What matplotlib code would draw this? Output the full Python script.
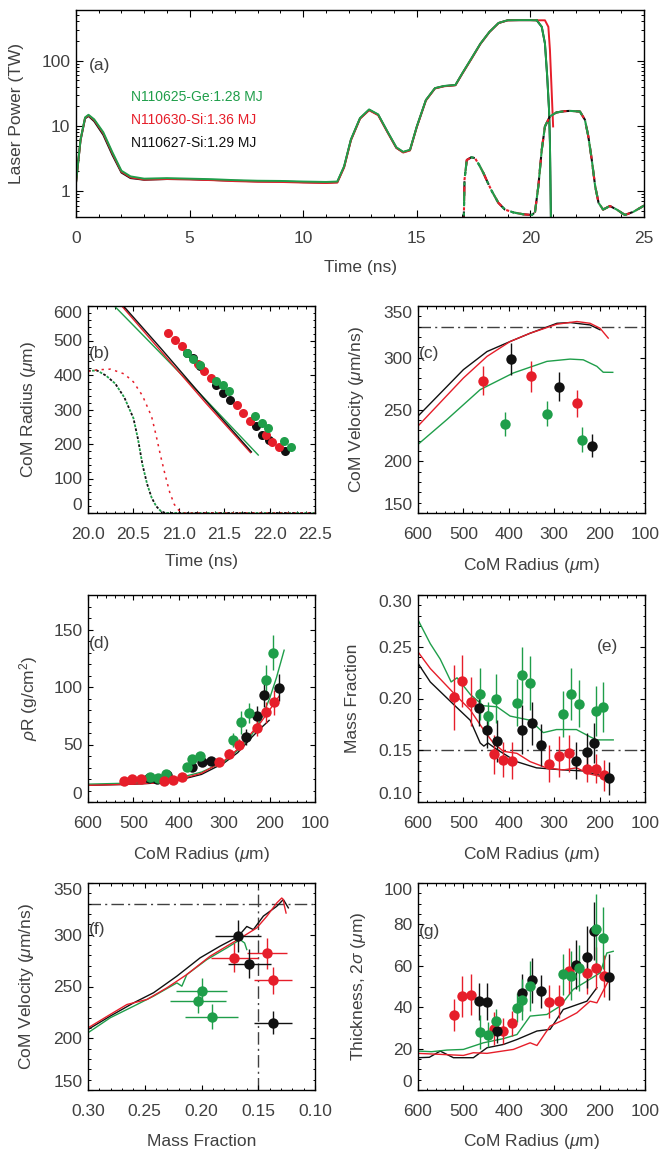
import numpy as np
import matplotlib.pyplot as plt
import matplotlib
from matplotlib.ticker import MultipleLocator, LogLocator, NullFormatter

# IDL-like look: Helvetica-ish text, gray labels, inward ticks on all sides
plt.rcParams['font.family'] = ['Liberation Sans', 'DejaVu Sans']
plt.rcParams['mathtext.fontset'] = 'custom'
plt.rcParams['mathtext.rm'] = 'Liberation Sans'
plt.rcParams['mathtext.it'] = 'Liberation Sans:italic'
plt.rcParams['xtick.labelcolor'] = '#404040'
plt.rcParams['ytick.labelcolor'] = '#404040'

GREEN = '#1f9e4a'
RED = '#e61e2a'
BLACK = '#111111'
TXT = '#404040'
REFC = '#404040'
FS = 12.5

# ---------------- (a) laser pulse ----------------
t_las = [0, 0.2, 0.4, 0.55, 0.8, 1.2, 1.6, 2.0, 2.4, 3.0, 4.0, 5.0, 6.0, 7.0, 8.0, 9.0,
         10.0, 11.0, 11.5, 11.8, 12.1, 12.5, 12.9, 13.3, 13.7, 14.1, 14.4, 14.7, 15.0,
         15.4, 15.8, 16.2, 16.7, 17.0, 17.4, 17.8, 18.2, 18.6, 19.0, 19.5, 20.0, 20.28]
p_green = [1.34, 6.2, 13.5, 14.8, 12.6, 8.0, 3.95, 2.05, 1.68, 1.55, 1.58, 1.55, 1.52, 1.47, 1.44, 1.43,
           1.40, 1.38, 1.40, 2.4, 6.2, 13.2, 17.9, 15.0, 8.3, 4.7, 4.0, 4.3, 9.8,
           25, 38, 41, 42.5, 64, 108, 183, 278, 380, 418, 420, 420, 417]
p_red = [1.34, 6.1, 13.3, 14.5, 12.3, 7.7, 3.8, 1.98, 1.62, 1.50, 1.53, 1.51, 1.47, 1.42, 1.39, 1.38,
         1.35, 1.33, 1.35, 2.3, 6.0, 12.9, 17.4, 14.6, 8.1, 4.6, 3.9, 4.2, 9.6,
         24.5, 37.5, 40.5, 42, 63, 106, 181, 276, 378, 416, 419, 419, 417]
p_black = [1.34, 6.0, 13.0, 14.2, 11.8, 7.3, 3.6, 1.92, 1.58, 1.49, 1.53, 1.52, 1.48, 1.44, 1.41, 1.40,
           1.37, 1.35, 1.37, 2.35, 6.1, 13.0, 17.6, 14.8, 8.2, 4.6, 3.95, 4.25, 9.7,
           24.8, 37.8, 40.8, 42.2, 63.5, 107, 182, 277, 379, 417, 419, 419, 417]
t_tail_green = [20.28, 20.5, 20.64, 20.74, 20.82, 20.86, 20.9, 20.92]
p_tail_green = [417, 331, 184, 57, 17.7, 5.5, 0.43, 0.1]
t_tail_red = [20.28, 20.64, 20.79, 20.86, 20.94, 21.0]
p_tail_red = [417, 417, 331, 146, 31.8, 9.8]

t_hump1 = [17.04, 17.1, 17.2, 17.4, 17.56, 17.75, 17.93, 18.1, 18.3, 18.59, 18.88, 19.25, 19.69, 20.06, 20.2]
p_hump1 = [0.1, 1.5, 3.0, 3.3, 3.2, 2.5, 1.9, 1.4, 1.0, 0.66, 0.52, 0.47, 0.44, 0.43, 0.47]
t_hump2 = [20.2, 20.35, 20.5, 20.64, 20.86, 21.15, 21.5, 21.74, 22.18, 22.4, 22.55, 22.7, 22.85,
           23.0, 23.2, 23.5, 23.8, 24.16, 24.53, 24.9, 25.0]
p_hump2 = [0.47, 1.19, 4.3, 9.8, 14, 16.1, 16.8, 17, 16.6, 12.4, 6.9, 3.05, 1.19,
           0.66, 0.52, 0.59, 0.52, 0.43, 0.48, 0.57, 0.6]

shot_labels = ['N110625-Ge:1.28 MJ', 'N110630-Si:1.36 MJ', 'N110627-Si:1.29 MJ']

# ---------------- experimental shells: radii shared by (b),(d),(e),(g) ----------------
r_red = [521, 502, 484, 432, 412, 392, 312, 290, 268, 227, 207, 190]
r_black = [465, 448, 425, 370, 348, 328, 251, 227, 212, 179]
r_green = [464, 446, 429, 383, 370, 353, 280, 262, 245, 209, 192]

t_red = [20.882, 20.963, 21.033, 21.213, 21.279, 21.353, 21.636, 21.710, 21.783, 21.956, 22.029, 22.103]
t_black = [21.09, 21.158, 21.232, 21.408, 21.489, 21.563, 21.849, 21.919, 21.996, 22.165]
t_green = [21.092, 21.158, 21.232, 21.408, 21.482, 21.555, 21.838, 21.912, 21.985, 22.158, 22.232]

# (b) simulated trajectories
bt_black = [20.30, 20.80, 21.30, 21.80]
br_black = [627, 478, 325, 177]
bt_red = [20.28, 20.80, 21.30, 21.79]
br_red = [628, 470, 318, 175]
bt_green = [20.19, 20.70, 21.20, 21.875]
br_green = [627, 490, 355, 168]
# (b) dotted: laser power (scaled)
dt_green = [20.0, 20.1, 20.2, 20.3, 20.4, 20.5, 20.55, 20.6, 20.65, 20.7, 20.75, 20.8, 20.85, 22.5]
dr_green = [412, 413, 398, 375, 335, 275, 215, 140, 85, 45, 20, 6, 0, 0]
dt_red = [20.0, 20.1, 20.25, 20.4, 20.5, 20.6, 20.7, 20.75, 20.8, 20.85, 20.9, 20.95, 21.0, 21.05, 22.5]
dr_red = [410, 415, 417, 403, 380, 340, 280, 225, 165, 110, 60, 25, 8, 0, 0]

# (c) velocity
cv_r_red = [456, 351, 250]
cv_v_red = [278, 282, 256]
cv_e_red = [14.4, 14.7, 12.8]
cv_r_black = [396, 289, 217]
cv_v_black = [299, 272, 215]
cv_e_black = [15.2, 14, 11.2]
cv_r_green = [408, 316, 238]
cv_v_green = [236, 246, 221]
cv_e_green = [11.9, 12.3, 11.7]

cl_r_black = [600, 500, 448, 397, 353, 294, 265, 221, 199]
cl_v_black = [243.6, 288.5, 306, 315.7, 323.7, 333.3, 334, 331.7, 327]
cl_r_red = [600, 500, 448, 397, 353, 294, 250, 221, 199, 181]
cl_v_red = [234, 280.4, 301.3, 315.7, 323.7, 332.4, 335, 333.3, 328.5, 319]
cl_r_green = [600, 536, 463, 390, 316, 265, 236, 206, 192, 171]
cl_v_green = [216.3, 240.4, 269.2, 285.3, 296.5, 298.7, 298, 291.7, 286, 285.9]
v_ref = 330

# (d) areal density
rho_red = [17.9, 20.3, 20.0, 17.9, 19.4, 21.7, 34.4, 42.0, 49.8, 64.2, 78.1, 86.8]
rho_red_err = [2, 2, 2, 2, 2, 2.5, 3, 4, 5, 7, 9, 11]
rho_black = [20.5, 20.0, 23.5, 30.4, 34.4, 35.3, 56.4, 74.4, 93.2, 99.5]
rho_black_err = [2, 2, 2, 3, 3, 3, 7, 9, 11, 12]
rho_green = [21.7, 20.8, 24.6, 30.4, 37.6, 39.6, 54.1, 69.4, 77.3, 106.2, 130.0]
rho_green_err = [2, 2, 2, 3, 3, 3, 6, 10, 9, 13, 15]

dl_r_green = [600, 550, 500, 450, 400, 350, 300, 270, 240, 220, 200, 185, 168]
dl_rho_green = [15.5, 16, 16.5, 18, 21, 26, 35, 45, 58, 71, 90, 108, 132]
dl_r_red = [600, 550, 500, 450, 400, 350, 300, 270, 240, 220, 200, 190, 179]
dl_rho_red = [14.5, 15, 15.5, 16.5, 19.5, 25, 36, 46, 60, 69, 80, 86, 92]
dl_r_black = [600, 550, 500, 450, 400, 350, 300, 270, 240, 220, 201]
dl_rho_black = [14.5, 15, 15.5, 16.5, 19, 24, 34, 43, 56, 64, 71]

# (e) ablator mass fraction
mf_red = [0.201, 0.217, 0.197, 0.146, 0.141, 0.140, 0.137, 0.144, 0.147, 0.132, 0.132, 0.126]
mf_red_err = [0.031, 0.025, 0.024, 0.019, 0.017, 0.018, 0.018, 0.02, 0.018, 0.013, 0.014, 0.015]
mf_black = [0.191, 0.170, 0.159, 0.170, 0.176, 0.155, 0.140, 0.148, 0.157, 0.123]
mf_black_err = [0.018, 0.018, 0.02, 0.024, 0.021, 0.02, 0.018, 0.019, 0.019, 0.016]
mf_green = [0.204, 0.183, 0.200, 0.196, 0.223, 0.215, 0.185, 0.204, 0.195, 0.188, 0.192]
mf_green_err = [0.025, 0.014, 0.024, 0.023, 0.027, 0.026, 0.022, 0.025, 0.023, 0.024, 0.024]

el_r_green = [600, 573, 551, 527, 514, 485, 456, 426, 397, 353, 324, 295, 251, 221, 207, 170]
el_mf_green = [0.276, 0.253, 0.238, 0.216, 0.220, 0.204, 0.193, 0.192, 0.183, 0.179, 0.167, 0.170, 0.170, 0.163, 0.160, 0.160]
el_r_red = [600, 573, 521, 485, 456, 434, 412, 382, 353, 317, 280, 251, 221, 192, 179]
el_mf_red = [0.245, 0.229, 0.205, 0.189, 0.170, 0.157, 0.149, 0.147, 0.139, 0.133, 0.131, 0.133, 0.127, 0.124, 0.123]
el_r_black = [600, 573, 521, 485, 463, 455, 446, 427, 383, 339, 280, 236, 192, 179]
el_mf_black = [0.234, 0.216, 0.194, 0.179, 0.157, 0.154, 0.157, 0.151, 0.139, 0.133, 0.131, 0.130, 0.125, 0.123]
mf_ref = 0.15

# (f) velocity vs mass fraction (velocities from (c))
fm_red = [0.171, 0.1425, 0.137]
fm_red_err = [0.021, 0.0176, 0.017]
fm_black = [0.168, 0.158, 0.137]
fm_black_err = [0.020, 0.019, 0.017]
fm_green = [0.203, 0.200, 0.191]
fm_green_err = [0.0246, 0.0227, 0.0235]

fl_mf_red = [0.30, 0.2804, 0.2657, 0.248, 0.2305, 0.2129, 0.1924, 0.1777, 0.163, 0.1513, 0.1425,
             0.1337, 0.1293, 0.1279, 0.127, 0.1255]
fl_v_red = [210, 223, 232.6, 237.5, 248.7, 261.6, 279.3, 289, 298.6, 306.6, 317.8,
            330.7, 335.5, 334, 328, 321]
fl_mf_black = [0.30, 0.2804, 0.2598, 0.2422, 0.2217, 0.2012, 0.1836, 0.168, 0.1601, 0.1543,
               0.1455, 0.1337, 0.1279, 0.1235]
fl_v_black = [208.5, 221.4, 234.2, 244, 260, 277.7, 289, 298, 308, 305, 318, 327.5, 334, 326]
fl_mf_green = [0.30, 0.2804, 0.2598, 0.2422, 0.2217, 0.2173, 0.2129, 0.1953, 0.1777, 0.166, 0.162, 0.1601]
fl_v_green = [205.3, 219.8, 231, 240.7, 253.5, 250.3, 261.6, 276, 287.3, 295.3, 292, 285.7]

# (g) shell thickness
th_red = [36.2, 45.3, 46.1, 29.7, 28.5, 32.2, 42.6, 42.9, 57.4, 56.6, 59.0, 55.0]
th_red_err = [7.7, 10, 10, 8, 6.5, 6, 8, 8, 11, 10, 10, 10]
th_black = [42.9, 42.6, 28.5, 47.0, 52.9, 47.7, 60.6, 64.3, 76.7, 54.7]
th_black_err = [9, 9, 6, 9, 11, 8, 12, 15, 14, 11]
th_green = [28.0, 26.8, 33.3, 39.7, 43.7, 50.2, 55.8, 55.3, 59.0, 77.8, 73.5]
th_green_err = [8, 6, 6, 7, 10, 12, 10, 12, 11, 17, 15]

gl_r_green = [600, 570, 536, 500, 456, 412, 382, 353, 316, 287, 258, 228, 199, 184, 170]
gl_th_green = [18.8, 18.5, 19.3, 19.6, 22.8, 24.8, 26.8, 35.7, 36.5, 40.5, 48.6, 52.6, 56.6, 66.2, 67]
gl_r_red = [600, 500, 478, 448, 390, 353, 338, 309, 280, 250, 221, 206, 179]
gl_th_red = [17.7, 16.7, 18, 17.7, 19.6, 22.8, 21.5, 30.9, 33.8, 37.3, 42.9, 42.1, 53.4]
gl_r_black = [600, 575, 551, 522, 478, 448, 412, 382, 338, 309, 280, 228, 206]
gl_th_black = [15.6, 15.8, 18.8, 15.6, 15.6, 20.4, 22, 24.4, 28.5, 29.3, 38.9, 42.9, 49.4]

# ---------------- layout ----------------
W, H = 661, 1152
fig = plt.figure(figsize=(W / 100, H / 100), dpi=100)


def rect(l, t, r, b):
    return [l / W, 1 - b / H, (r - l) / W, (b - t) / H]


def style(ax, big=False):
    ax.tick_params(which='both', direction='in', top=True, right=True, color='black',
                   labelsize=FS)
    ax.tick_params(axis='x', which='both', pad=10)
    ax.tick_params(axis='y', which='both', pad=4)
    ax.tick_params(which='major', length=5 if big else 3.5, width=0.8)
    ax.tick_params(which='minor', length=2.5 if big else 1.8, width=0.7)
    for s in ax.spines.values():
        s.set_linewidth(1.0)


def labels(ax, xl, yl, xc, yc):
    ax.set_xlabel(xl, fontsize=FS, color=TXT)
    ax.set_ylabel(yl, fontsize=FS, color=TXT)
    ax.xaxis.label.set_va('center')
    ax.yaxis.label.set_va('center')
    ax.xaxis.set_label_coords(0.5, xc)
    ax.yaxis.set_label_coords(yc, 0.5)


def edge_ylabels(ax, top=True, bottom=True):
    ticks = ax.yaxis.get_major_ticks()
    if bottom:
        ticks[0].label1.set_va('bottom')
    if top:
        ticks[-1].label1.set_va('top')


def tag(ax, s, x=0.005, y=0.77):
    ax.text(x, y, s, transform=ax.transAxes, fontsize=FS, color=TXT, va='center', ha='left')


def refline(ax, y=None, x=None):
    kw = dict(color=REFC, lw=1.0, linestyle=(0, (9, 3, 1.5, 3)), zorder=1)
    if y is not None:
        ax.axhline(y, **kw)
    if x is not None:
        ax.axvline(x, **kw)


def points(ax, x, y, c, yerr=None, xerr=None, ms=7.5):
    ax.errorbar(x, y, yerr=yerr, xerr=xerr, fmt='o', color=c, ms=ms, mec=c, mew=0,
                elinewidth=1.0, capsize=1.3, capthick=1.0, zorder=4)


# ---- (a)
ax = fig.add_axes(rect(76, 10, 644, 217))
ax.set_yscale('log')
ax.plot(t_las, p_black, color=BLACK, lw=1.4)
ax.plot(t_tail_green, p_tail_green, color=BLACK, lw=1.4)
ax.plot(t_las, p_red, color=RED, lw=1.4)
ax.plot(t_tail_red, p_tail_red, color=RED, lw=1.4)
ax.plot(t_las, p_green, color=GREEN, lw=1.4)
ax.plot(t_tail_green, p_tail_green, color=GREEN, lw=1.4)
for c, off in [(BLACK, 0), (RED, 2.5), (GREEN, 5)]:
    ax.plot(t_hump1, p_hump1, color=c, lw=1.5, linestyle=(off, (7, 3, 1.5, 3)))
    ax.plot(t_hump2, p_hump2, color=c, lw=1.5, linestyle=(off * 0.6, (7, 3)))
ax.set_xlim(0, 25)
ax.set_ylim(0.4, 600)
ax.xaxis.set_major_locator(MultipleLocator(5))
ax.xaxis.set_minor_locator(MultipleLocator(1))
ax.set_yticks([1, 10, 100])
ax.set_yticklabels(['1', '10', '100'])
ax.yaxis.set_minor_locator(LogLocator(base=10, subs=np.arange(2, 10)))
ax.yaxis.set_minor_formatter(NullFormatter())
style(ax, big=True)
labels(ax, 'Time (ns)', 'Laser Power (TW)', -0.246, -0.104)
ax.text(0.023, 0.734, '(a)', transform=ax.transAxes, fontsize=FS, color=TXT, va='center')
for s, c, y in zip(shot_labels, [GREEN, RED, BLACK], [0.58, 0.469, 0.357]):
    ax.text(0.097, y, s, transform=ax.transAxes, fontsize=10, color=c, va='center')

# ---- (b)
ax = fig.add_axes(rect(88, 306, 315, 513))
ax.plot(dt_green, dr_green, color=BLACK, lw=1.3, linestyle=(0, (1.5, 3)))
ax.plot(dt_green, dr_green, color=GREEN, lw=1.3, linestyle=(2.25, (1.5, 3)))
ax.plot(dt_red, dr_red, color=RED, lw=1.1, linestyle=(0, (1.5, 3)))
ax.plot(bt_green, br_green, color=GREEN, lw=1.0)
ax.plot(bt_red, br_red, color=RED, lw=1.0)
ax.plot(bt_black, br_black, color=BLACK, lw=1.0)
ax.plot(t_black, r_black, 'o', color=BLACK, ms=6.5, mew=0)
ax.plot(t_red, r_red, 'o', color=RED, ms=6.5, mew=0)
ax.plot(t_green, r_green, 'o', color=GREEN, ms=6.5, mew=0)
ax.set_xlim(20, 22.5)
ax.set_ylim(0, 600)
ax.set_xticks([20.0, 20.5, 21.0, 21.5, 22.0, 22.5])
ax.set_xticklabels(['20.0', '20.5', '21.0', '21.5', '22.0', '22.5'])
ax.xaxis.set_minor_locator(MultipleLocator(0.1))
ax.set_yticks(np.arange(0, 601, 100))
ax.yaxis.set_minor_locator(MultipleLocator(20))
style(ax)
labels(ax, 'Time (ns)', r'CoM Radius ($\mu$m)', -0.236, -0.264)
edge_ylabels(ax)
tag(ax, '(b)')

# ---- (c)
ax = fig.add_axes(rect(418, 306, 645, 513))
refline(ax, y=v_ref)
ax.plot(cl_r_green, cl_v_green, color=GREEN, lw=1.0)
ax.plot(cl_r_black, cl_v_black, color=BLACK, lw=1.0)
ax.plot(cl_r_red, cl_v_red, color=RED, lw=1.0)
points(ax, cv_r_red, cv_v_red, RED, yerr=cv_e_red)
points(ax, cv_r_black, cv_v_black, BLACK, yerr=cv_e_black)
points(ax, cv_r_green, cv_v_green, GREEN, yerr=cv_e_green)
ax.set_xlim(600, 100)
ax.set_ylim(150, 350)
ax.xaxis.set_major_locator(MultipleLocator(100))
ax.xaxis.set_minor_locator(MultipleLocator(20))
ax.set_yticks(np.arange(150, 351, 50))
ax.yaxis.set_minor_locator(MultipleLocator(10))
style(ax)
labels(ax, r'CoM Radius ($\mu$m)', r'CoM Velocity ($\mu$m/ns)', -0.253, -0.27)
edge_ylabels(ax)
tag(ax, '(c)')

# ---- (d)
ax = fig.add_axes(rect(88, 595, 315, 802))
ax.plot(dl_r_black, dl_rho_black, color=BLACK, lw=1.0)
ax.plot(dl_r_green, dl_rho_green, color=GREEN, lw=1.0)
ax.plot(dl_r_red, dl_rho_red, color=RED, lw=1.0)
points(ax, r_black, rho_black, BLACK, yerr=rho_black_err)
points(ax, r_green, rho_green, GREEN, yerr=rho_green_err)
points(ax, r_red, rho_red, RED, yerr=rho_red_err)
ax.set_xlim(600, 100)
ax.set_ylim(0, 180)
ax.xaxis.set_major_locator(MultipleLocator(100))
ax.xaxis.set_minor_locator(MultipleLocator(20))
ax.set_yticks([0, 50, 100, 150])
ax.yaxis.set_minor_locator(MultipleLocator(10))
style(ax)
labels(ax, r'CoM Radius ($\mu$m)', r'$\rho$R (g/cm$^2$)', -0.255, -0.264)
edge_ylabels(ax, top=False)
tag(ax, '(d)', y=0.768)

# ---- (e)
ax = fig.add_axes(rect(418, 595, 645, 802))
refline(ax, y=mf_ref)
ax.plot(el_r_black, el_mf_black, color=BLACK, lw=1.0)
ax.plot(el_r_red, el_mf_red, color=RED, lw=1.0)
ax.plot(el_r_green, el_mf_green, color=GREEN, lw=1.0)
points(ax, r_red, mf_red, RED, yerr=mf_red_err)
points(ax, r_black, mf_black, BLACK, yerr=mf_black_err)
points(ax, r_green, mf_green, GREEN, yerr=mf_green_err)
ax.set_xlim(600, 100)
ax.set_ylim(0.10, 0.30)
ax.xaxis.set_major_locator(MultipleLocator(100))
ax.xaxis.set_minor_locator(MultipleLocator(20))
ax.set_yticks([0.10, 0.15, 0.20, 0.25, 0.30])
ax.set_yticklabels(['0.10', '0.15', '0.20', '0.25', '0.30'])
ax.yaxis.set_minor_locator(MultipleLocator(0.01))
style(ax)
labels(ax, r'CoM Radius ($\mu$m)', 'Mass Fraction', -0.255, -0.29)
edge_ylabels(ax)
tag(ax, '(e)', x=0.79, y=0.75)

# ---- (f)
ax = fig.add_axes(rect(88, 883, 315, 1090))
refline(ax, y=v_ref, x=mf_ref)
ax.plot(fl_mf_black, fl_v_black, color=BLACK, lw=1.0)
ax.plot(fl_mf_green, fl_v_green, color=GREEN, lw=1.0)
ax.plot(fl_mf_red, fl_v_red, color=RED, lw=1.0)
points(ax, fm_red, cv_v_red, RED, yerr=cv_e_red, xerr=fm_red_err)
points(ax, fm_black, cv_v_black, BLACK, yerr=cv_e_black, xerr=fm_black_err)
points(ax, fm_green, cv_v_green, GREEN, yerr=cv_e_green, xerr=fm_green_err)
ax.set_xlim(0.30, 0.10)
ax.set_ylim(150, 350)
ax.set_xticks([0.30, 0.25, 0.20, 0.15, 0.10])
ax.set_xticklabels(['0.30', '0.25', '0.20', '0.15', '0.10'])
ax.xaxis.set_minor_locator(MultipleLocator(0.01))
ax.set_yticks(np.arange(150, 351, 50))
ax.yaxis.set_minor_locator(MultipleLocator(10))
style(ax)
labels(ax, 'Mass Fraction', r'CoM Velocity ($\mu$m/ns)', -0.25, -0.27)
edge_ylabels(ax)
tag(ax, '(f)', y=0.774)

# ---- (g)
ax = fig.add_axes(rect(418, 883, 645, 1090))
ax.plot(gl_r_black, gl_th_black, color=BLACK, lw=1.0)
ax.plot(gl_r_red, gl_th_red, color=RED, lw=1.0)
ax.plot(gl_r_green, gl_th_green, color=GREEN, lw=1.0)
points(ax, r_red, th_red, RED, yerr=th_red_err)
points(ax, r_black, th_black, BLACK, yerr=th_black_err)
points(ax, r_green, th_green, GREEN, yerr=th_green_err)
ax.set_xlim(600, 100)
ax.set_ylim(0, 100)
ax.xaxis.set_major_locator(MultipleLocator(100))
ax.xaxis.set_minor_locator(MultipleLocator(20))
ax.set_yticks(np.arange(0, 101, 20))
ax.yaxis.set_minor_locator(MultipleLocator(5))
style(ax)
labels(ax, r'CoM Radius ($\mu$m)', r'Thickness, 2$\sigma$ ($\mu$m)', -0.25, -0.264)
edge_ylabels(ax)
tag(ax, '(g)', y=0.768)

fig.savefig('out.png', dpi=100)
